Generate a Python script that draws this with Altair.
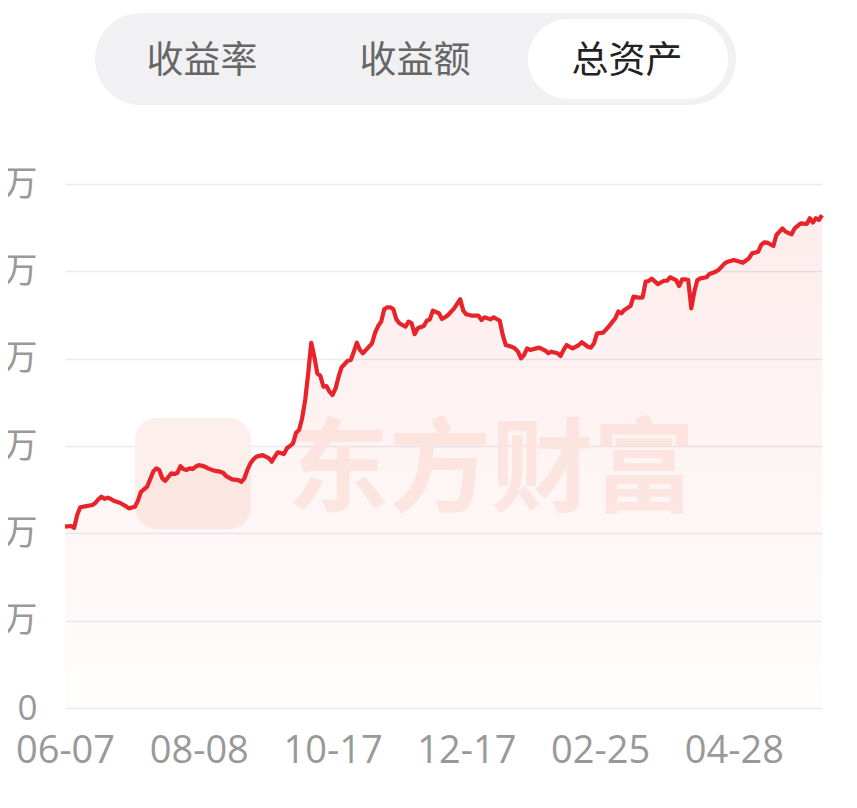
import altair as alt
import pandas as pd

# ---------------- data ----------------
tabs = ["收益率", "收益额", "总资产"]
selected_tab = "总资产"
watermark = "东方财富"

x_tick_days = [0, 44, 88, 132, 176, 220]
x_tick_labels = ["06-07", "08-08", "10-17", "12-17", "02-25", "04-28"]
y_ticks = [0, 5, 10, 15, 20, 25, 30]

# trading-day index and total assets (万)
days = [0, 2, 3, 4, 5, 7, 9, 10, 11, 12, 13, 14, 15, 16, 18, 20, 21, 23, 24, 25,
        27, 28, 29, 30, 31, 32, 33, 35, 36, 37, 38, 39, 40, 41, 42, 43, 44, 46, 47, 49,
        51, 52, 53, 55, 57, 58, 59, 60, 61, 62, 63, 65, 67, 68, 69, 70, 72, 73, 74, 75,
        76, 77, 78, 79, 80, 81, 82, 83, 84, 85, 86, 87, 88, 89, 90, 91, 93, 94, 95, 96,
        97, 98, 99, 101, 102, 103, 104, 105, 106, 107, 108, 109, 110, 112, 113, 114, 115, 116, 118, 119,
        120, 121, 123, 124, 125, 126, 128, 130, 131, 132, 134, 136, 137, 138, 140, 141, 143, 144, 145, 147,
        148, 149, 150, 151, 152, 153, 155, 156, 158, 159, 160, 162, 163, 164, 165, 166, 167, 169, 170, 172,
        173, 174, 175, 177, 178, 179, 180, 181, 182, 183, 184, 186, 187, 189, 190, 191, 192, 193, 195, 197,
        198, 199, 201, 202, 203, 204, 205, 206, 207, 208, 209, 211, 212, 214, 215, 217, 218, 220, 222, 223,
        225, 226, 228, 229, 230, 231, 233, 234, 236, 237, 239, 240, 242, 244, 245, 246, 247, 248, 249]
values = [10.38, 10.42, 10.31, 11.05, 11.49, 11.56, 11.62, 11.74, 11.95, 12.10, 11.97, 12.04, 11.98, 11.87, 11.75, 11.56, 11.43, 11.52, 11.87, 12.38,
          12.67, 13.09, 13.53, 13.72, 13.63, 13.15, 13.01, 13.44, 13.40, 13.47, 13.85, 13.67, 13.63, 13.72, 13.68, 13.82, 13.91, 13.82, 13.72, 13.59,
          13.53, 13.47, 13.28, 13.09, 13.05, 12.94, 13.15, 13.63, 14.01, 14.24, 14.39, 14.48, 14.30, 14.10, 14.39, 14.64, 14.54, 14.87, 15.00, 15.15,
          15.76, 15.92, 16.59, 17.63, 19.16, 20.91, 20.11, 19.16, 19.01, 18.40, 18.43, 18.11, 17.92, 18.30, 18.97, 19.51, 19.88, 19.92, 20.40, 20.91,
          20.50, 20.31, 20.50, 20.88, 21.49, 21.87, 22.12, 22.83, 22.94, 22.94, 22.83, 22.25, 22.03, 21.83, 22.12, 22.03, 21.40, 21.74, 21.87, 22.17,
          22.25, 22.75, 22.60, 22.27, 22.37, 22.50, 22.88, 23.40, 22.75, 22.54, 22.46, 22.46, 22.21, 22.37, 22.25, 22.37, 22.17, 21.35, 20.78, 20.68,
          20.59, 20.40, 20.02, 20.21, 20.59, 20.50, 20.59, 20.63, 20.46, 20.31, 20.40, 20.31, 20.15, 20.50, 20.78, 20.68, 20.59, 20.78, 20.94, 20.68,
          20.63, 20.88, 21.45, 21.49, 21.68, 21.87, 22.09, 22.31, 22.70, 22.60, 22.79, 23.01, 23.55, 23.49, 23.51, 24.41, 24.45, 24.58, 24.27, 24.46,
          24.46, 24.66, 24.50, 24.16, 24.54, 24.54, 24.50, 22.88, 23.83, 24.50, 24.60, 24.66, 24.85, 24.98, 25.08, 25.46, 25.55, 25.65, 25.55, 25.49,
          25.75, 26.03, 26.12, 26.51, 26.66, 26.64, 26.45, 27.08, 27.46, 27.27, 27.12, 27.46, 27.75, 27.71, 28.04, 27.79, 28.04, 27.94, 28.22]

df = pd.DataFrame({"day": days, "value": values})
tab_df = pd.DataFrame({"tab": tabs})
wm_df = pd.DataFrame({"name": [watermark]})

RED = "#e8232a"
GRID = "#e9e9f0"
LABEL = "#999999"

x_label_expr = " : ".join(
    f"datum.value == {d} ? '{l}'" for d, l in zip(x_tick_days, x_tick_labels)
) + " : ''"

x_enc = alt.X(
    "day:Q",
    scale=alt.Scale(domain=[0, 249], nice=False, zero=False),
    axis=alt.Axis(
        values=x_tick_days, labelExpr=x_label_expr, title=None, grid=False,
        domain=False, ticks=False, labelFlush=False, labelOverlap=False,
        labelFontSize=38, labelColor=LABEL, labelFont="Open Sans", labelPadding=24,
        labelBound=False,
    ),
)
y_enc = alt.Y(
    "value:Q",
    scale=alt.Scale(domain=[0, 30], nice=False),
    axis=alt.Axis(
        values=y_ticks,
        labelExpr="datum.value == 0 ? '0' : datum.value + '万'",
        title=None, grid=True, gridColor=GRID, gridWidth=1.5,
        domain=False, ticks=False, labelFontSize=35, labelColor=LABEL,
        labelFont="Open Sans, Noto Sans CJK SC", labelPadding=28,
    ),
)

# ---- tab bar (decoration) ----
pill_bg = alt.Chart(tab_df).transform_filter(alt.datum.tab == tabs[0]).mark_rect(
    color="#f1f1f3", cornerRadius=46
).encode(x=alt.value(30), x2=alt.value(671), y=alt.value(-171), y2=alt.value(-79))

pill_sel = alt.Chart(tab_df).transform_filter(alt.datum.tab == selected_tab).mark_rect(
    color="#ffffff", cornerRadius=40
).encode(x=alt.value(463), x2=alt.value(663), y=alt.value(-165), y2=alt.value(-85))

tab_x = [137, 350, 562]
tab_layers = []
for t, xv in zip(tabs, tab_x):
    sel = t == selected_tab
    tab_layers.append(
        alt.Chart(tab_df).transform_filter(alt.datum.tab == t).mark_text(
            font="Noto Sans CJK SC", fontSize=37,
            fontWeight="normal",
            color="#222222" if sel else "#666666",
            align="center", baseline="middle",
        ).encode(text="tab:N", x=alt.value(xv), y=alt.value(-122))
    )

# ---- watermark ----
logo = alt.Chart(wm_df).mark_rect(color="#fdefeb", cornerRadius=22).encode(
    x=alt.value(70), x2=alt.value(186), y=alt.value(234), y2=alt.value(345)
)
wm_text = alt.Chart(wm_df).mark_text(
    font="Noto Sans CJK SC", fontSize=102, fontWeight="bold", color="#fdeee9",
    align="left", baseline="middle",
).encode(text="name:N", x=alt.value(222), y=alt.value(289))

# ---- data marks ----
area = alt.Chart(df).mark_area(
    line=False,
    color=alt.Gradient(
        gradient="linear",
        stops=[
            alt.GradientStop(color="rgba(235,45,45,0.09)", offset=0),
            alt.GradientStop(color="rgba(235,45,45,0.01)", offset=1),
        ],
        x1=0, x2=0, y1=0, y2=1,
    ),
).encode(x=x_enc, y=y_enc)

line = alt.Chart(df).mark_line(color=RED, strokeWidth=4.2, strokeJoin="round").encode(
    x="day:Q", y="value:Q"
)

chart = alt.layer(
    pill_bg, pill_sel, *tab_layers, logo, wm_text, area, line
).properties(
    width=757, height=524,
    autosize=alt.AutoSizeParams(type="none"),
    padding={"left": 57, "top": 176, "right": 27, "bottom": 90},
    background="white",
).configure_view(stroke=None)

chart.save("out.html", embed_options={"renderer": "svg", "actions": False})
